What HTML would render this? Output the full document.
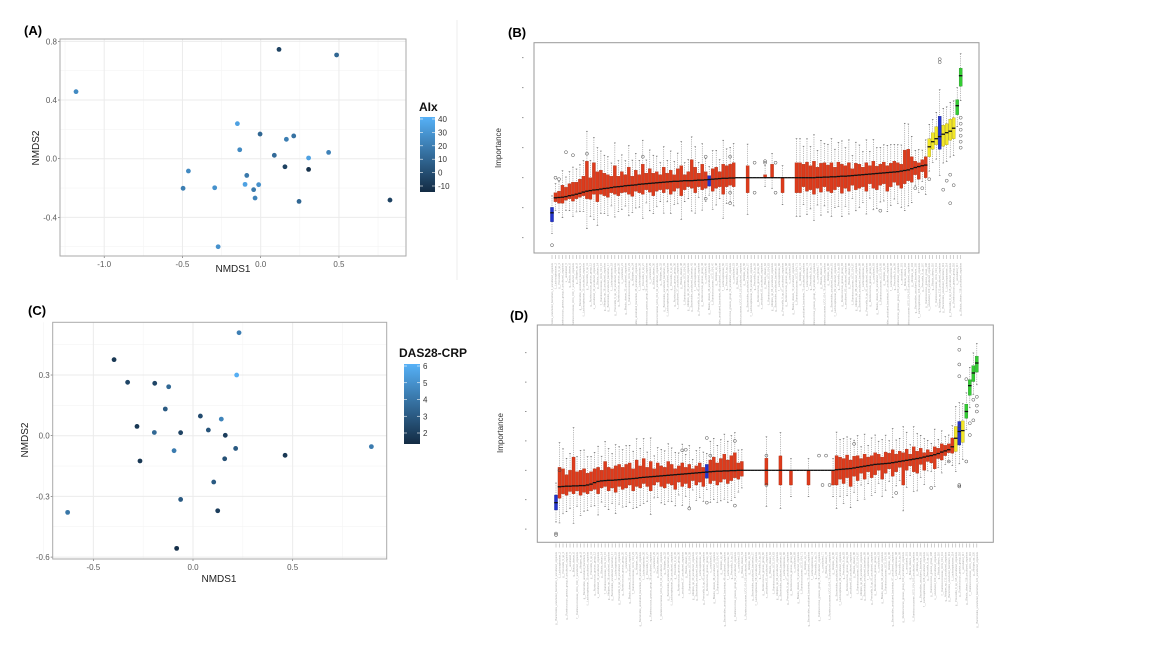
<!DOCTYPE html>
<html><head><meta charset="utf-8"><style>
html,body{margin:0;padding:0;background:#fff;}
svg{display:block;font-family:"Liberation Sans",sans-serif;}
</style></head><body>
<svg id="fig" width="1152" height="648" viewBox="0 0 1152 648">
<rect x="0" y="0" width="1152" height="648" fill="#fff"/>
<line x1="457" y1="20" x2="457" y2="280" stroke="#eeeeee"/>
<text x="24" y="35" font-size="13" font-weight="bold">(A)</text>
<text x="508" y="37" font-size="13" font-weight="bold">(B)</text>
<text x="28" y="315" font-size="13" font-weight="bold">(C)</text>
<text x="510" y="320" font-size="13" font-weight="bold">(D)</text>
<defs>
<linearGradient id="gA" x1="0" y1="1" x2="0" y2="0"><stop offset="0" stop-color="#132B43"/><stop offset="1" stop-color="#56B1F7"/></linearGradient>
</defs>
<g id="pa"></g>
<g id="pc"></g>
<g id="pb"></g>
<g id="pd"></g>
</svg>
<script>
// ---------- Scatter data ----------
const aX = [0.117,0.485,-1.18,-0.149,-0.004,-0.134,0.164,0.211,0.087,0.306,0.434,0.155,0.306,-0.462,-0.089,-0.10,-0.013,-0.045,-0.036,-0.496,-0.294,0.245,-0.272,0.826];
const aY = [0.745,0.707,0.457,0.239,0.168,0.061,0.132,0.155,0.023,0.005,0.043,-0.055,-0.073,-0.084,-0.114,-0.175,-0.177,-0.211,-0.268,-0.202,-0.198,-0.291,-0.60,-0.282];
const aAIx = [-5,10,25,35,10,25,20,15,12,35,22,-5,-12,25,18,35,28,18,22,20,28,10,28,-5];
const aXTicks = [-1.0,-0.5,0.0,0.5];
const aYTicks = [0.8,0.4,0.0,-0.4];
const aLegTicks = [40,30,20,10,0,-10];

const cX = [0.231,0.219,-0.396,-0.328,-0.192,-0.122,-0.139,0.037,0.142,-0.281,-0.194,-0.062,0.077,0.162,-0.095,0.214,0.159,-0.266,0.462,0.895,0.104,-0.062,0.124,-0.629,-0.082];
const cY = [0.509,0.30,0.376,0.264,0.259,0.242,0.132,0.097,0.082,0.046,0.016,0.015,0.028,0.002,-0.074,-0.063,-0.114,-0.125,-0.097,-0.054,-0.229,-0.315,-0.371,-0.379,-0.557];
const cDAS = [4.3,6.0,1.8,2.3,2.3,3.5,3.0,2.5,4.5,1.8,3.5,2.2,2.8,2.0,4.2,3.0,2.7,1.8,1.8,4.2,3.0,3.0,2.0,4.0,1.5];
const cXTicks = [-0.5,0.0,0.5];
const cYTicks = [0.3,0.0,-0.3,-0.6];
const cLegTicks = [6,5,4,3,2];

// ---------- Boxplot B data ----------
const bMedRed1 = [-0.67,-0.66,-0.65,-0.63,-0.60,-0.58,-0.55,-0.52,-0.48,-0.45,-0.43,-0.41,-0.40,-0.38,-0.36,-0.35,-0.33,-0.31,-0.30,-0.29,-0.27,-0.26,-0.25,-0.24,-0.22,-0.21,-0.20,-0.19,-0.18,-0.17,-0.16,-0.15,-0.14,-0.13,-0.12,-0.12,-0.11,-0.10,-0.10,-0.10,-0.09,-0.08,-0.08,-0.07,-0.06,-0.05,-0.04,-0.03,-0.02,-0.02,-0.01,-0.01];
const bQ3Red1 = [-0.50,-0.45,-0.25,-0.32,-0.20,-0.15,-0.15,-0.05,0.05,0.55,0.0,0.50,0.20,0.25,0.15,0.10,0.05,0.40,0.05,0.20,0.10,0.35,0.05,0.25,0.10,0.45,0.15,0.30,0.15,0.20,0.10,0.35,0.15,0.25,0.10,0.30,0.40,0.10,0.20,0.60,0.35,0.15,0.45,0.20,0.07,0.30,0.35,0.20,0.45,0.40,0.45,0.50];
const bQ1Red1 = [-0.80,-0.85,-0.85,-0.75,-0.70,-0.78,-0.70,-0.65,-0.60,-0.70,-0.72,-0.55,-0.80,-0.55,-0.60,-0.65,-0.50,-0.55,-0.60,-0.50,-0.48,-0.55,-0.62,-0.45,-0.50,-0.55,-0.40,-0.48,-0.60,-0.45,-0.40,-0.50,-0.38,-0.55,-0.45,-0.35,-0.60,-0.40,-0.30,-0.35,-0.50,-0.30,-0.40,-0.35,-0.28,-0.45,-0.35,-0.30,-0.55,-0.30,-0.25,-0.30];
const bMedGap = [0,0,0,0,0,0,0,0,0,0,0,0,0,0,0,0,0];
const bQ3Gap = [0,0,0,0.4,0,0,0,0,0.1,0,0.45,0,0,0,0,0,0];
const bQ1Gap = [0,0,0,-0.5,0,0,0,0,0,0,0,0,0,-0.5,0,0,0];
const bMedRed2 = [0,0,0,0,0,0,0.01,0.01,0.02,0.02,0.03,0.03,0.04,0.05,0.05,0.06,0.07,0.08,0.09,0.10,0.11,0.12,0.13,0.14,0.15,0.16,0.17,0.18,0.19,0.20,0.22,0.24,0.26,0.30,0.34,0.37,0.40,0.42];
const bQ3Red2 = [0.50,0.50,0.45,0.52,0.40,0.55,0.35,0.48,0.50,0.42,0.50,0.35,0.52,0.45,0.40,0.50,0.30,0.48,0.45,0.35,0.50,0.40,0.55,0.38,0.45,0.52,0.40,0.48,0.55,0.50,0.45,0.92,0.95,0.70,0.55,0.50,0.60,0.70];
const bQ1Red2 = [-0.50,-0.50,-0.30,-0.45,-0.40,-0.55,-0.35,-0.48,-0.30,-0.45,-0.50,-0.40,-0.30,-0.52,-0.35,-0.45,-0.25,-0.40,-0.35,-0.30,-0.45,-0.20,-0.35,-0.40,-0.25,-0.20,-0.45,-0.30,-0.15,-0.25,-0.35,-0.20,-0.10,-0.15,0.10,-0.05,0.20,0.0];
const bMedTail = [1.03,1.20,1.30,1.37,1.45,1.50,1.55,1.65,2.40,3.40];
const bQ3Tail = [1.30,1.50,1.70,2.05,1.75,1.80,1.95,2.00,2.60,3.65];
const bQ1Tail = [0.70,0.95,1.10,0.95,1.05,1.10,1.25,1.30,2.10,3.05];
const bMed = [-1.17].concat(bMedRed1,bMedGap,bMedRed2,bMedTail);
const bQ3 = [-0.99].concat(bQ3Red1,bQ3Gap,bQ3Red2,bQ3Tail);
const bQ1 = [-1.47].concat(bQ1Red1,bQ1Gap,bQ1Red2,bQ1Tail);
const bBlue = [0,45,111];
const bYellow = [108,109,110,112,113,114,115];
const bGreen = [116,117];
const bOutIdx = [0,1,2,4,6,10,26,44,44,51,51,51,58,58,61,61,64,64,94,104,106,108,111,111,112,113,114,114,115,117,117,117,117,117,117];
const bOutVal = [-2.25,0.0,-0.05,0.85,0.75,0.8,0.7,0.7,-0.7,0.7,-0.5,-0.85,0.5,-0.5,0.55,0.5,0.5,-0.5,-1.1,-0.35,-0.35,-0.05,3.95,3.85,-0.4,-0.1,0.1,-0.85,-0.25,2.0,1.8,1.6,1.4,1.2,1.0];
const boxYTicks = [4,3,2,1,0,-1,-2];

// ---------- Boxplot D data ----------
const dMedRed1 = [-0.56,-0.55,-0.54,-0.54,-0.53,-0.53,-0.52,-0.52,-0.50,-0.47,-0.42,-0.38,-0.36,-0.35,-0.34,-0.34,-0.33,-0.32,-0.31,-0.30,-0.29,-0.28,-0.27,-0.25,-0.24,-0.23,-0.22,-0.21,-0.20,-0.19,-0.18,-0.17,-0.16,-0.15,-0.14,-0.13,-0.12,-0.11,-0.10,-0.09,-0.08,-0.07,-0.06,-0.05,-0.04,-0.03,-0.03,-0.02,-0.02,-0.01,-0.01,0,0];
const dQ3Red1 = [0.10,0.05,-0.15,0.0,0.45,-0.05,0.0,0.05,-0.10,-0.05,0.05,0.10,0.0,0.30,0.10,0.05,0.15,0.20,0.10,0.20,0.25,0.05,0.35,0.15,0.40,0.10,0.30,0.05,0.25,0.15,0.10,0.30,0.20,0.05,0.15,0.25,0.10,0.20,0.05,0.15,0.25,0.10,0.20,0.35,0.45,0.25,0.40,0.55,0.35,0.50,0.60,0.25,0.30];
const dQ1Red1 = [-0.95,-0.80,-0.85,-0.72,-0.80,-0.70,-0.85,-0.75,-0.80,-0.70,-0.65,-0.80,-0.60,-0.55,-0.70,-0.60,-0.75,-0.55,-0.65,-0.60,-0.50,-0.70,-0.55,-0.60,-0.45,-0.55,-0.70,-0.50,-0.40,-0.55,-0.60,-0.45,-0.50,-0.65,-0.40,-0.55,-0.45,-0.60,-0.35,-0.50,-0.40,-0.55,-0.27,-0.45,-0.35,-0.50,-0.40,-0.30,-0.45,-0.35,-0.25,-0.30,-0.20];
const dMedGap = [0,0,0,0,0,0,0,0,0,0,0,0,0,0,0,0,0,0,0,0,0,0,0,0,0,0];
const dQ3Gap = [0,0,0,0,0,0,0.41,0,0,0,0.49,0,0,0,0,0,0,0,0,0,0,0,0,0,0,0];
const dQ1Gap = [0,0,0,0,0,0,-0.5,0,0,0,-0.5,0,0,-0.5,0,0,0,0,-0.5,0,0,0,0,0,0,-0.5];
const dMedRed2 = [0.02,0.03,0.04,0.05,0.06,0.08,0.10,0.12,0.14,0.16,0.18,0.20,0.21,0.22,0.23,0.24,0.26,0.28,0.30,0.32,0.34,0.36,0.38,0.40,0.42,0.45,0.48,0.50,0.53,0.57,0.62,0.66,0.70,0.80];
const dQ3Red2 = [0.50,0.45,0.40,0.52,0.35,0.48,0.50,0.40,0.55,0.45,0.50,0.60,0.55,0.45,0.62,0.58,0.70,0.55,0.65,0.60,0.72,0.55,0.80,0.65,0.75,0.60,0.70,0.62,0.80,0.75,0.90,0.85,0.90,1.10];
const dQ1Red2 = [-0.50,-0.30,-0.45,-0.25,-0.55,-0.20,-0.35,-0.10,-0.30,-0.05,-0.25,-0.15,0.00,-0.30,-0.10,0.05,-0.20,-0.05,0.10,-0.50,0.00,0.15,-0.05,-0.10,0.20,0.00,0.30,0.25,0.05,0.40,0.35,0.50,0.60,0.58];
const dMedTail = [1.09,1.32,1.35,2.0,2.88,3.31,3.65];
const dQ3Tail = [1.49,1.66,1.68,2.25,3.08,3.56,3.88];
const dQ1Tail = [0.64,0.86,0.95,1.77,2.55,3.02,3.34];
const dMed = [-1.10].concat(dMedRed1,dMedGap,dMedRed2,dMedTail);
const dQ3 = [-0.84].concat(dQ3Red1,dQ3Gap,dQ3Red2,dQ3Tail);
const dQ1 = [-1.35].concat(dQ1Red1,dQ1Gap,dQ1Red2,dQ1Tail);
const dBlue = [0,43,115];
const dYellow = [114,116];
const dGreen = [117,118,119,120];
const dOutIdx = [0,0,1,36,37,38,43,43,44,51,51,60,60,75,76,77,78,85,97,107,112,115,115,115,115,115,115,115,117,117,118,118,119,119,120,120,120];
const dOutVal = [-2.15,-2.2,0,0.68,0.7,-1.3,1.1,-1.1,0.5,1.0,-1.2,0.5,-0.5,0.5,-0.5,0.5,-0.5,0.9,-0.77,-0.6,0.3,4.5,4.1,3.6,3.2,1.5,-0.5,-0.55,3.1,0.3,1.6,1.2,2.4,1.7,2.5,2.0,2.2];
const taxaNames = ["g__Bacteroides_uncultured_bacterium","f__Lachnospiraceae","g__Prevotella_9_sp","g__Ruminococcus_gnavus_group","s__uncultured","g__Blautia_obeum","f__Ruminococcaceae_UCG_014","g__Alistipes_sp"];

// ---------- helpers ----------
const NS = "http://www.w3.org/2000/svg";
function mk(parent, tag, attrs, txt){
  const e = document.createElementNS(NS, tag);
  for (const k in attrs) e.setAttribute(k, attrs[k]);
  if (txt !== undefined) e.textContent = txt;
  parent.appendChild(e);
  return e;
}
function lerpCol(t){
  t = Math.max(0, Math.min(1, t));
  const a=[0x13,0x2B,0x43], b=[0x56,0xB1,0xF7];
  return "rgb(" + a.map((v,i)=>Math.round(v+(b[i]-v)*t)).join(",") + ")";
}

function scatter(g, cfg){
  const {x0,x1,y0,y1,xs,ys,xv,yv,cv,cmin,cmax,xt,yt,xMinor,yMinor,xlab,ylab,xlabPos,ylabPos} = cfg;
  mk(g,"rect",{x:x0,y:y0,width:x1-x0,height:y1-y0,fill:"#fff"});
  xMinor.forEach(v=>{const e=mk(g,"line",{x1:xs(v),x2:xs(v),y1:y0,y2:y1,stroke:"#f4f4f4","stroke-width":0.6});
     });
  yMinor.forEach(v=>{const e=mk(g,"line",{x1:x0,x2:x1,y1:ys(v),y2:ys(v),stroke:"#f4f4f4","stroke-width":0.6});
     });
  xt.forEach(v=>{
    const e=mk(g,"line",{x1:xs(v),x2:xs(v),y1:y0,y2:y1,stroke:"#ebebeb","stroke-width":1});
     
    const t=mk(g,"text",{x:xs(v),y:y1+11,"font-size":8,fill:"#5a5a5a","text-anchor":"middle"}, v.toFixed(1));
     
    mk(g,"line",{x1:xs(v),x2:xs(v),y1:y1,y2:y1+2,stroke:"#555","stroke-width":0.6});
  });
  yt.forEach(v=>{
    const e=mk(g,"line",{x1:x0,x2:x1,y1:ys(v),y2:ys(v),stroke:"#ebebeb","stroke-width":1});
     
    const t=mk(g,"text",{x:x0-3,y:ys(v)+3,"font-size":8,fill:"#5a5a5a","text-anchor":"end"}, v.toFixed(1));
     
    mk(g,"line",{x1:x0-2,x2:x0,y1:ys(v),y2:ys(v),stroke:"#555","stroke-width":0.6});
  });
  const fr=mk(g,"rect",{x:x0,y:y0,width:x1-x0,height:y1-y0,fill:"none",stroke:"#aaaaaa","stroke-width":1});
   
  xv.forEach((v,i)=>{
    const c=mk(g,"circle",{cx:xs(v),cy:ys(yv[i]),r:2.4,fill:lerpCol((cv[i]-cmin)/(cmax-cmin))});
     
  });
  const xl=mk(g,"text",{x:xlabPos[0],y:xlabPos[1],"font-size":10,fill:"#222","text-anchor":"middle"},xlab);
   
  const yl=mk(g,"text",{x:ylabPos[0],y:ylabPos[1],"font-size":10,fill:"#222","text-anchor":"middle",transform:`rotate(-90 ${ylabPos[0]} ${ylabPos[1]})`},ylab);
   
}

function legend(g, cfg){
  const {bx,by0,by1,bw,title,tx,ty,ticks,ls} = cfg;
  const t=mk(g,"text",{x:tx,y:ty,"font-size":12,"font-weight":"bold",fill:"#111"},title);
   
  const r=mk(g,"rect",{x:bx,y:by0,width:bw,height:by1-by0,fill:"url(#gA)"});
   
  ticks.forEach(v=>{
    const y=ls(v);
    mk(g,"line",{x1:bx,x2:bx+3,y1:y,y2:y,stroke:"#fff","stroke-width":0.6});
    mk(g,"line",{x1:bx+bw-3,x2:bx+bw,y1:y,y2:y,stroke:"#fff","stroke-width":0.6});
    const l=mk(g,"text",{x:bx+bw+3,y:y+3,"font-size":8,fill:"#333"},String(v));
     
  });
}

function boxplot(g, cfg){
  const {x0,x1,y0,y1,xs,ys,med,q1,q3,blue,yellow,green,outI,outV,yTickX,tickTop,labTop,ylabPos} = cfg;
  const fr=mk(g,"rect",{x:x0,y:y0,width:x1-x0,height:y1-y0,fill:"#fff",stroke:"#999","stroke-width":1});
   
  boxYTicks.forEach(v=>{
    const e=mk(g,"line",{x1:yTickX,x2:yTickX+1.5,y1:ys(v),y2:ys(v),stroke:"#777","stroke-width":0.8});
     
  });
  const yl=mk(g,"text",{x:ylabPos[0],y:ylabPos[1],"font-size":8,fill:"#333","text-anchor":"middle",transform:`rotate(-90 ${ylabPos[0]} ${ylabPos[1]})`},"Importance");
   
  const bw=3.1;
  med.forEach((m,i)=>{
    const x=xs(i);
    let fill="#dd3b1c", stroke="#9a2a12";
    if (blue.includes(i)) {fill="#2233cc"; stroke="#111a80";}
    else if (yellow.includes(i)) {fill="#f2e626"; stroke="#9a9010";}
    else if (green.includes(i)) {fill="#33cc33"; stroke="#1a7a1a";}
    const iqr=q3[i]-q1[i];
    if (iqr>0.001){
      const w=Math.max(0.3,iqr*0.8);
      const wh=mk(g,"line",{x1:x,x2:x,y1:ys(q3[i]+w),y2:ys(q3[i]),stroke:"#777","stroke-width":0.5,"stroke-dasharray":"1.2,1"});
       
      const wl=mk(g,"line",{x1:x,x2:x,y1:ys(q1[i]),y2:ys(q1[i]-w),stroke:"#777","stroke-width":0.5,"stroke-dasharray":"1.2,1"});
       
      mk(g,"line",{x1:x-0.8,x2:x+0.8,y1:ys(q3[i]+w),y2:ys(q3[i]+w),stroke:"#444","stroke-width":0.5});
      mk(g,"line",{x1:x-0.8,x2:x+0.8,y1:ys(q1[i]-w),y2:ys(q1[i]-w),stroke:"#444","stroke-width":0.5});
      const r=mk(g,"rect",{x:x-bw/2,y:ys(q3[i]),width:bw,height:ys(q1[i])-ys(q3[i]),fill:fill,stroke:stroke,"stroke-width":0.3});
       
    }
    const ml=mk(g,"line",{x1:x-1.8,x2:x+1.8,y1:ys(m),y2:ys(m),stroke:"#111","stroke-width":1.3});
     
    mk(g,"line",{x1:x,x2:x,y1:tickTop,y2:tickTop+4,stroke:"#888","stroke-width":0.4});
    const nm=taxaNames[i%taxaNames.length]+"_"+(i+1)+(i%3===0?"_uncultured_organism":"");
    const lt=mk(g,"text",{x:x+1,y:labTop,"font-size":2.6,fill:"#aaa","text-anchor":"end",transform:`rotate(-90 ${x+1} ${labTop})`},nm);
     
  });
  outI.forEach((idx,k)=>{
    const c=mk(g,"circle",{cx:xs(idx),cy:ys(outV[k]),r:1.5,fill:"none",stroke:"#444","stroke-width":0.5});
     
  });
}

// ---------- Panel A ----------
const xA = v => 260.7 + v*156.5, yA = v => 158.7 - v*146.7;
scatter(document.getElementById("pa"),{x0:60,x1:406,y0:39,y1:256,xs:xA,ys:yA,xv:aX,yv:aY,cv:aAIx,cmin:-14.5,cmax:41.5,
  xt:aXTicks,yt:aYTicks,xMinor:[-1.25,-0.75,-0.25,0.25,0.75],yMinor:[0.6,0.2,-0.2,-0.6],
  xlab:"NMDS1",ylab:"NMDS2",xlabPos:[233,272],ylabPos:[39,148]});
const legA = v => 186 - (v+10)*1.34;
legend(document.getElementById("pa"),{bx:420,by0:117,by1:192,bw:15,title:"AIx",tx:419,ty:111,ticks:aLegTicks,ls:legA});

// ---------- Panel C ----------
const xC = v => 193 + v*199.3, yC = v => 435.7 - v*202.3;
scatter(document.getElementById("pc"),{x0:52.7,x1:386.7,y0:322.3,y1:559,xs:xC,ys:yC,xv:cX,yv:cY,cv:cDAS,cmin:1.35,cmax:6.1,
  xt:cXTicks,yt:cYTicks,xMinor:[-0.75,-0.25,0.25,0.75],yMinor:[0.45,0.15,-0.15,-0.45],
  xlab:"NMDS1",ylab:"NMDS2",xlabPos:[219,582],ylabPos:[28,440]});
const legC = v => 433 - (v-2)*16.75;
legend(document.getElementById("pc"),{bx:404,by0:364,by1:444,bw:16,title:"DAS28-CRP",tx:399,ty:357,ticks:cLegTicks,ls:legC});

// ---------- Panel B ----------
const xB = i => 552 + i*3.493, yB = v => 177.7 - v*30;
boxplot(document.getElementById("pb"),{x0:534,x1:979,y0:42.7,y1:253,xs:xB,ys:yB,med:bMed,q1:bQ1,q3:bQ3,
  blue:bBlue,yellow:bYellow,green:bGreen,outI:bOutIdx,outV:bOutVal,yTickX:522,tickTop:255,labTop:263,ylabPos:[501,148]});

// ---------- Panel D ----------
const xD = i => 556 + i*3.507, yD = v => 470.3 - v*29.4;
boxplot(document.getElementById("pd"),{x0:537.3,x1:993.3,y0:325,y1:542.3,xs:xD,ys:yD,med:dMed,q1:dQ1,q3:dQ3,
  blue:dBlue,yellow:dYellow,green:dGreen,outI:dOutIdx,outV:dOutVal,yTickX:525,tickTop:543.5,labTop:552,ylabPos:[503,433]});
</script>
</body></html>
